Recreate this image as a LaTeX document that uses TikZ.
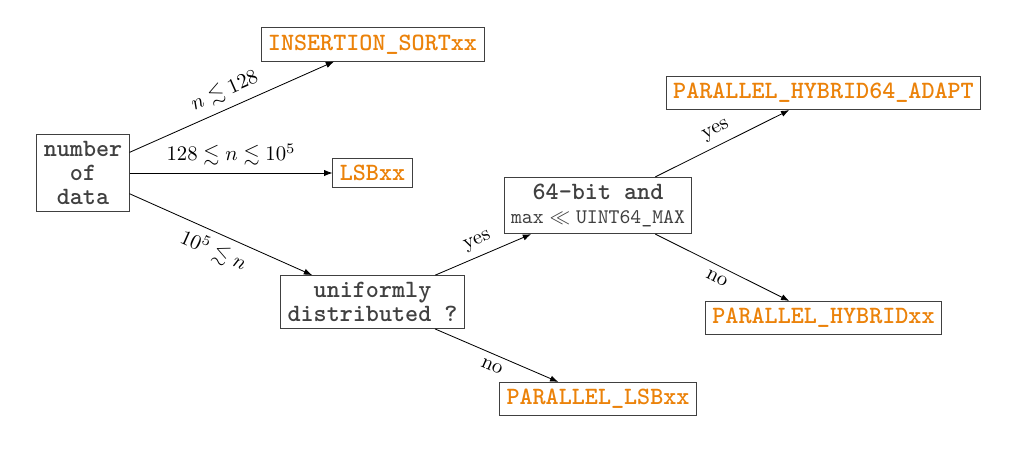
\documentclass[tikz,border=0pt]{standalone}
\usepackage{amssymb}
\usetikzlibrary{arrows.meta}
\definecolor{boxgray}{RGB}{64,64,64}
\definecolor{algocol}{RGB}{235,130,10}
\begin{document}
\begin{tikzpicture}[x=0.482pt,y=-0.482pt,
  box/.style={draw=boxgray, text=boxgray, font=\ttfamily\bfseries\fontsize{12}{11.4}\selectfont, align=center},
  algo/.style={box, text=algocol},
  arr/.style={-{Latex[length=4pt,width=3pt]}},
  lab/.style={font=\normalsize, sloped}]
\useasboundingbox (0,0) rectangle (1024,451);
\node[box]  (num)  at (83,173)    {number\\of\\data};
\node[algo] (ins)  at (372.5,44.5) {INSERTION\_SORTxx};
\node[algo] (lsb)  at (372.5,173) {LSBxx};
\node[box]  (uni)  at (372.5,302) {uniformly\\distributed ?};
\node[box]  (b64)  at (598,205.5) {64-bit and\\{\mdseries\fontsize{10}{12}\selectfont $\texttt{max}\ll\texttt{UINT64\_MAX}$}};
\node[algo] (plsb) at (598,399)   {PARALLEL\_LSBxx};
\node[algo] (ada)  at (823.5,93)  {PARALLEL\_HYBRID64\_ADAPT};
\node[algo] (hyb)  at (823.5,318) {PARALLEL\_HYBRIDxx};
\draw[arr] (num) -- node[lab,above] {$n \lesssim 128$} (ins);
\draw[arr] (num) -- node[lab,above] {$128 \lesssim n \lesssim 10^5$} (lsb);
\draw[arr] (num) -- node[lab,below] {$10^5 \lesssim n$} (uni);
\draw[arr] (uni) -- node[lab,above] {yes} (b64);
\draw[arr] (uni) -- node[lab,below] {no} (plsb);
\draw[arr] (b64) -- node[lab,above] {yes} (ada);
\draw[arr] (b64) -- node[lab,below] {no} (hyb);
\end{tikzpicture}
\end{document}
